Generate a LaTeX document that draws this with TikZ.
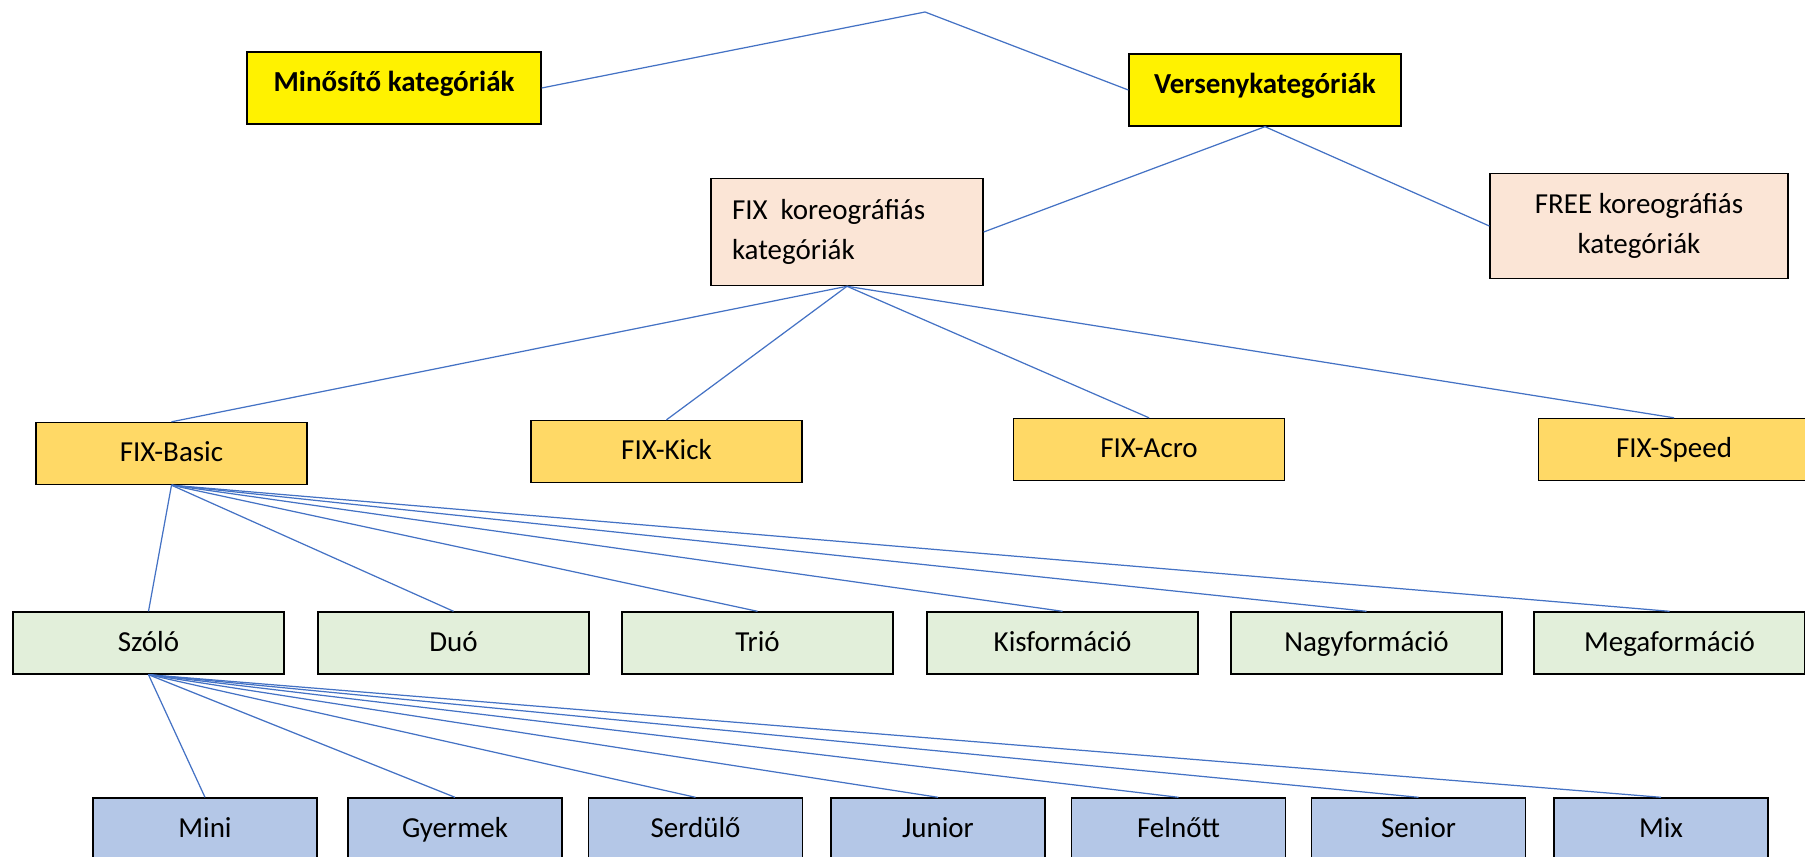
\documentclass[tikz,border=0pt]{standalone}
\usepackage{fontspec}
\setmainfont{Carlito}
\usepackage{tikz}
\usetikzlibrary{positioning}
\definecolor{linkblue}{HTML}{4472C4}
\definecolor{peach}{HTML}{FBE5D6}
\definecolor{gold}{HTML}{FFD966}
\definecolor{sage}{HTML}{E2EFDA}
\definecolor{steel}{HTML}{B4C7E7}
\def\txt{\fontsize{16.5pt}{22.8pt}\selectfont}
\tikzstyle{box} = [rectangle, draw=black, line width=0.8pt, text=black, font=\txt]
\tikzstyle{one} = [box, text height=12pt, text depth=2.6pt]
\tikzstyle{head} = [box, fill=yellow, font=\txt\bfseries, minimum height=1.44cm, text height=12pt, text depth=8.2pt]
\tikzstyle{kor} = [box, fill=peach, minimum height=2.1cm]
\tikzstyle{fix} = [one, fill=gold, minimum width=5.42cm, minimum height=1.24cm]
\tikzstyle{num} = [one, fill=sage, minimum width=5.42cm, minimum height=1.24cm]
\tikzstyle{age} = [one, fill=steel, minimum width=4.28cm, minimum height=1.24cm]
\tikzstyle{link} = [draw=linkblue, line width=0.7pt]

\begin{document}
\begin{tikzpicture}[x=0.02cm, y=-0.02cm]
  \useasboundingbox (0,0) rectangle (1805,857);

  \node (min) [head, minimum width=5.88cm] at (394,88) {Minősítő kategóriák};
  \node (verseny) [head, minimum width=5.44cm] at (1265,90) {Versenykategóriák};
  \coordinate (top) at (925,12);
  \draw [link] (min.east) -- (top) -- (verseny.west);

  \node (fixkor) [kor, minimum width=5.44cm, text width=4.6cm, align=left, inner sep=0.42cm] at (847,232) {FIX\hspace{0.45em}koreográfiás\\kategóriák};
  \node (freekor) [kor, minimum width=5.96cm, align=center] at (1639,226) {FREE koreográfiás\\kategóriák};
  \draw [link] (verseny.south) -- (fixkor.east);
  \draw [link] (verseny.south) -- (freekor.west);

  \foreach \x/\y/\i/\t in {171.5/453.5/1/FIX-Basic, 666.5/451.5/2/FIX-Kick, 1149/449.5/3/FIX-Acro, 1674/449.5/4/FIX-Speed}{
    \node (f\i) [fix] at (\x,\y) {\t};
    \draw [link] (fixkor.south) -- (f\i.north);
  }

  \foreach \x/\i/\t in {148.5/1/Szóló, 453.5/2/Duó, 757.5/3/Trió, 1062.5/4/Kisformáció, 1366.5/5/Nagyformáció, 1669.5/6/Megaformáció}{
    \node (c\i) [num] at (\x,643) {\t};
    \draw [link] (f1.south) -- (c\i.north);
  }

  \node (a1) [age, minimum width=4.48cm] at (205,829) {Mini};
  \foreach \x/\i/\t in {455/2/Gyermek, 695.5/3/Serdülő, 938/4/Junior, 1178.5/5/Felnőtt, 1418.5/6/Senior, 1661/7/Mix}{
    \node (a\i) [age] at (\x,829) {\t};
  }
  \foreach \i in {1,...,7}{
    \draw [link] (c1.south) -- (a\i.north);
  }
\end{tikzpicture}
\end{document}
